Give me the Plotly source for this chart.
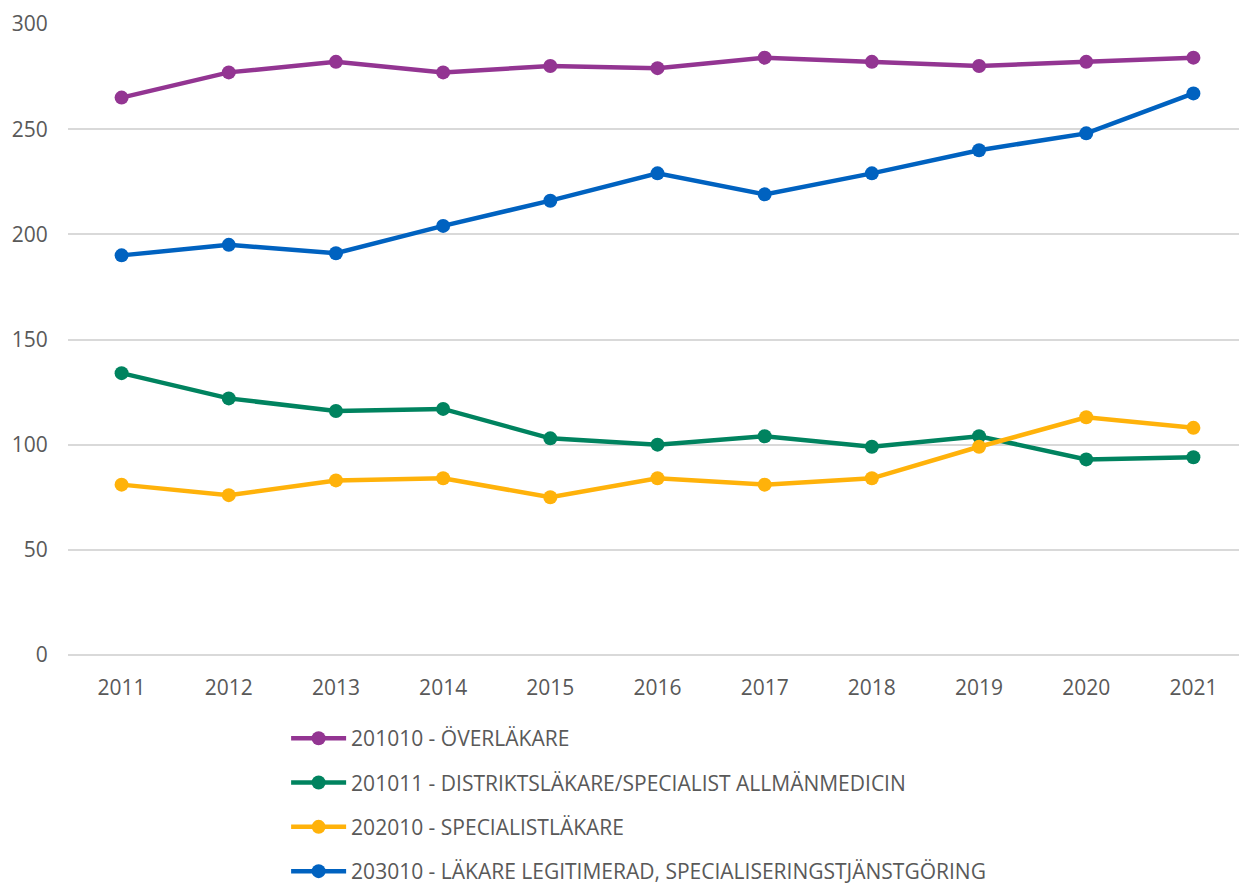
import plotly.graph_objects as go

years = [str(y) for y in range(2011, 2022)]
overlakare = [265, 277, 282, 277, 280, 279, 284, 282, 280, 282, 284]
distrikt = [134, 122, 116, 117, 103, 100, 104, 99, 104, 93, 94]
specialist = [81, 76, 83, 84, 75, 84, 81, 84, 99, 113, 108]
legitimerad = [190, 195, 191, 204, 216, 229, 219, 229, 240, 248, 267]

names = [
    "201010 - ÖVERLÄKARE",
    "201011 - DISTRIKTSLÄKARE/SPECIALIST ALLMÄNMEDICIN",
    "202010 - SPECIALISTLÄKARE",
    "203010 - LÄKARE LEGITIMERAD, SPECIALISERINGSTJÄNSTGÖRING",
]
series = [overlakare, distrikt, specialist, legitimerad]
colors = ["#933592", "#00835F", "#FFB20A", "#0062C0"]

fig = go.Figure()
for i, (n, s, c) in enumerate(zip(names, series, colors)):
    fig.add_trace(go.Scatter(
        x=years, y=s, name=n, mode="lines+markers",
        line=dict(color=c, width=4.5),
        marker=dict(color=c, size=14),
        legendgroup=f"g{i}", cliponaxis=False,
    ))

font = "Open Sans, Liberation Sans, sans-serif"
fig.update_layout(
    width=1239, height=879,
    margin=dict(l=60, r=0, t=16, b=232, autoexpand=False),
    plot_bgcolor="white", paper_bgcolor="white",
    font=dict(family=font, size=21, color="#595959"),
    showlegend=True,
    legend=dict(
        orientation="v", x=0.185, xanchor="left", y=-0.1, yanchor="top",
        font=dict(size=21, color="#595959"), tracegroupgap=14,
        itemwidth=55, bgcolor="rgba(0,0,0,0)",
    ),
    xaxis=dict(
        type="category", range=[-0.5, 10.5],
        showgrid=False, showline=False, zeroline=False,
        ticks="outside", ticklen=14, tickcolor="rgba(0,0,0,0)",
        tickfont=dict(size=21, color="#595959"),
    ),
    yaxis=dict(
        range=[0, 300], tickvals=[0, 50, 100, 150, 200, 250, 300],
        showgrid=True, gridcolor="#D9D9D9", gridwidth=1.5,
        zeroline=True, zerolinecolor="#D9D9D9", zerolinewidth=1.5,
        showline=False, ticks="outside", ticklen=15, tickcolor="rgba(0,0,0,0)",
        tickfont=dict(size=21, color="#595959"), ticklabeloverflow="allow",
    ),
)
fig.write_html("out.html")
